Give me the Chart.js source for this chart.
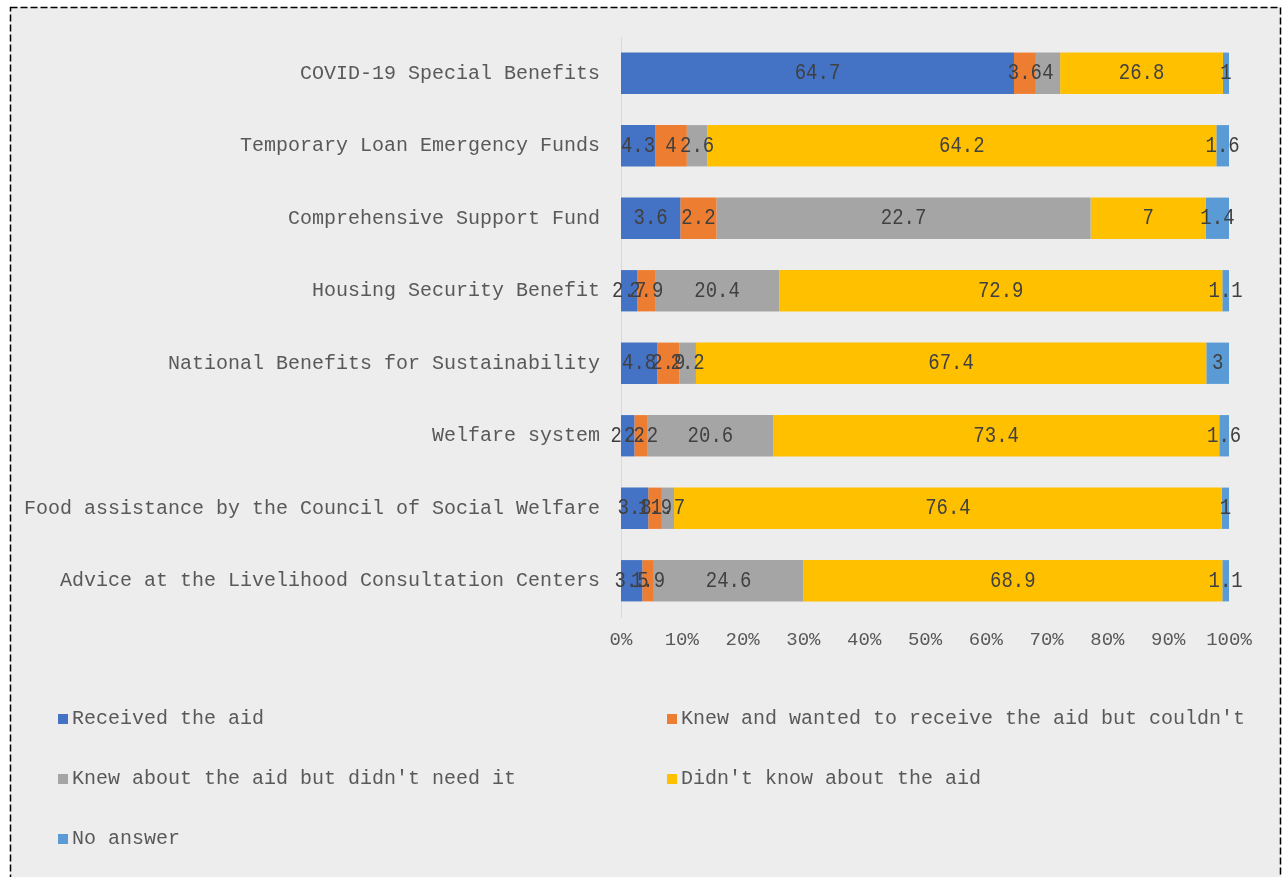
<!DOCTYPE html>
<html lang="en">
<head>
    <meta charset="UTF-8">
    <title>Awareness and use of support measures</title>
    <script src="https://cdn.jsdelivr.net/npm/chart.js"></script>
    <style>
        html, body {
            margin: 0;
            padding: 0;
            background: #ffffff;
        }
        canvas {
            display: block;
        }
    </style>
</head>
<body>
    <canvas id="aidChart" width="1283" height="877"></canvas>

    <script>
        // Raw survey values (shares, rows do not always add up to 100)
        const categories = [
            "COVID-19 Special Benefits",
            "Temporary Loan Emergency Funds",
            "Comprehensive Support Fund",
            "Housing Security Benefit",
            "National Benefits for Sustainability",
            "Welfare system",
            "Food assistance by the Council of Social Welfare",
            "Advice at the Livelihood Consultation Centers"
        ];
        const seriesNames = [
            "Received the aid",
            "Knew and wanted to receive the aid but couldn't",
            "Knew about the aid but didn't need it",
            "Didn't know about the aid",
            "No answer"
        ];
        const received   = [64.7, 4.3, 3.6, 2.7, 4.8, 2.2, 3.8, 3.5];
        const knewWanted = [3.6, 4, 2.2, 2.9, 2.9, 2.2, 1.9, 1.9];
        const knewNoNeed = [4, 2.6, 22.7, 20.4, 2.2, 20.6, 1.7, 24.6];
        const didntKnow  = [26.8, 64.2, 7, 72.9, 67.4, 73.4, 76.4, 68.9];
        const noAnswer   = [1, 1.6, 1.4, 1.1, 3, 1.6, 1, 1.1];
        const xTickStep = 10;

        const colors = ["#4472C4", "#ED7D31", "#A5A5A5", "#FFC000", "#5B9BD5"];
        const raw = [received, knewWanted, knewNoNeed, didntKnow, noAnswer];

        // 100% stacked: each row scaled by its own total
        const rowTotals = categories.map((c, i) => raw.reduce((s, arr) => s + arr[i], 0));
        const datasets = raw.map((arr, k) => ({
            label: seriesNames[k],
            data: arr.map((v, i) => v / rowTotals[i] * 100),
            rawValues: arr,
            backgroundColor: colors[k],
            borderWidth: 0,
            categoryPercentage: 1,
            barPercentage: 0.57
        }));

        const fontFamily = "'Liberation Mono', 'DejaVu Sans Mono', monospace";
        Chart.defaults.font.family = fontFamily;
        Chart.defaults.font.size = 20;
        Chart.defaults.color = "#595959";

        const frame = {
            id: "frame",
            beforeDraw(chart) {
                const ctx = chart.ctx;
                ctx.save();
                ctx.fillStyle = "#ffffff";
                ctx.fillRect(0, 0, chart.width, chart.height);
                ctx.fillStyle = "#ededed";
                ctx.fillRect(10, 7, chart.width - 12, chart.height);
                ctx.strokeStyle = "#000000";
                ctx.lineWidth = 1.5;
                ctx.setLineDash([7, 3]);
                ctx.strokeRect(10.5, 7.5, chart.width - 13, chart.height + 10);
                ctx.restore();
            }
        };

        const barLabels = {
            id: "barLabels",
            afterDatasetsDraw(chart) {
                const ctx = chart.ctx;
                ctx.save();
                ctx.fillStyle = "#404040";
                ctx.font = "19px " + fontFamily;
                ctx.textAlign = "center";
                ctx.textBaseline = "middle";
                chart.data.datasets.forEach((ds, k) => {
                    chart.getDatasetMeta(k).data.forEach((bar, i) => {
                        const cx = (bar.x + bar.base) / 2;
                        ctx.save();
                        ctx.translate(cx, bar.y);
                        ctx.scale(1, 1.2);
                        ctx.fillText(String(ds.rawValues[i]), 0, 0);
                        ctx.restore();
                    });
                });
                ctx.restore();
            }
        };

        const gridLegend = {
            id: "gridLegend",
            afterDraw(chart) {
                const ctx = chart.ctx;
                ctx.save();
                ctx.font = "20px " + fontFamily;
                ctx.textBaseline = "middle";
                ctx.textAlign = "left";
                chart.data.datasets.forEach((ds, k) => {
                    const x = (k % 2 === 0) ? 58 : 667;
                    const y = 719 + Math.floor(k / 2) * 60;
                    ctx.fillStyle = ds.backgroundColor;
                    ctx.fillRect(x, y - 5, 10, 10);
                    ctx.fillStyle = "#595959";
                    ctx.fillText(ds.label, x + 14, y);
                });
                ctx.restore();
            }
        };

        new Chart(document.getElementById("aidChart"), {
            type: "bar",
            data: { labels: categories, datasets: datasets },
            options: {
                responsive: false,
                animation: false,
                indexAxis: "y",
                layout: { padding: { left: 10, right: 54, top: 37, bottom: 217 } },
                scales: {
                    x: {
                        stacked: true,
                        min: 0,
                        max: 100,
                        grid: { display: false, drawTicks: false },
                        border: { display: false },
                        ticks: {
                            stepSize: xTickStep,
                            padding: 12,
                            font: { size: 19 },
                            callback: v => v + "%"
                        },
                        afterFit: s => { s.height = 43; }
                    },
                    y: {
                        stacked: true,
                        grid: { display: false, drawTicks: false },
                        border: { display: true, color: "#d9d9d9", width: 1 },
                        ticks: { padding: 21, autoSkip: false },
                        afterFit: s => { s.width = 611; }
                    }
                },
                plugins: {
                    legend: { display: false },
                    tooltip: { enabled: false }
                }
            },
            plugins: [frame, barLabels, gridLegend]
        });
    </script>
</body>
</html>
